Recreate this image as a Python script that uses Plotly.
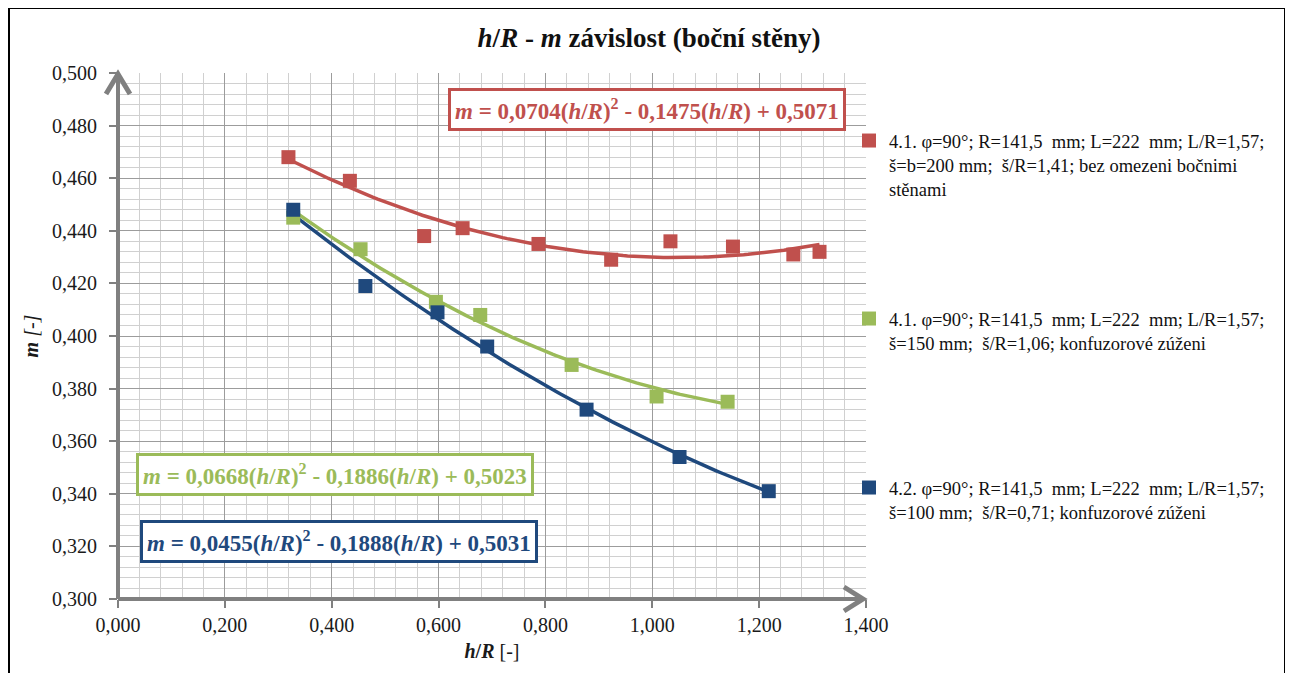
import numpy as np
import plotly.graph_objects as go

# ---- data ----
red_x = [0.319, 0.434, 0.573, 0.645, 0.787, 0.923, 1.034, 1.151, 1.264, 1.313]
red_y = [0.468, 0.459, 0.438, 0.441, 0.435, 0.429, 0.436, 0.434, 0.431, 0.432]
green_x = [0.328, 0.454, 0.595, 0.678, 0.849, 1.008, 1.141]
green_y = [0.445, 0.433, 0.413, 0.408, 0.389, 0.377, 0.375]
blue_x = [0.328, 0.463, 0.598, 0.691, 0.877, 1.051, 1.218]
blue_y = [0.448, 0.419, 0.409, 0.396, 0.372, 0.354, 0.341]

# trendline coefficients (a, b, c) for m = a*(h/R)^2 + b*(h/R) + c, as printed on the chart
red_coef = [0.0704, -0.1475, 0.5071]
green_coef = [0.0668, -0.1886, 0.5023]
blue_coef = [0.0455, -0.1888, 0.5031]

red_name = "4.1. φ=90°; R=141,5 \u00a0mm; L=222 \u00a0mm; L/R=1,57;<br>š=b=200 mm; \u00a0š/R=1,41; bez omezeni bočnimi<br>stěnami"
green_name = "4.1. φ=90°; R=141,5 \u00a0mm; L=222 \u00a0mm; L/R=1,57;<br>š=150 mm; \u00a0š/R=1,06; konfuzorové zúženi"
blue_name = "4.2. φ=90°; R=141,5 \u00a0mm; L=222 \u00a0mm; L/R=1,57;<br>š=100 mm; \u00a0š/R=0,71; konfuzorové zúženi"

RED = "#c0504d"
GREEN = "#9bbb59"
BLUE = "#1f497d"
AXIS = "#808080"
SERIF = "Liberation Serif, Times New Roman, serif"

# page has an 8px body margin; work in page pixels and convert
OFF = 8
W, H = 1285, 665
L, T = 118 - OFF, 73 - OFF
PW, PH = 748, 526
R = W - L - PW
B = H - T - PH


def px2paper(px, py):
    fx, fy = px - OFF, py - OFF
    return (fx - L) / PW, (H - B - fy) / PH


def trend(coef, xs):
    xx = np.linspace(min(xs), max(xs), 120)
    return xx, coef[0] * xx ** 2 + coef[1] * xx + coef[2]


def eq_text(coef):
    a, b, c = coef
    f = lambda v: f"{abs(v):.4f}".replace(".", ",")
    sb = "-" if b < 0 else "+"
    sc = "-" if c < 0 else "+"
    return (f"<b><i>m</i> = {f(a)}(<i>h</i>/<i>R</i>)<sup>2</sup> {sb} {f(b)}(<i>h</i>/<i>R</i>) {sc} {f(c)}</b>")


fig = go.Figure()

series = [
    (red_x, red_y, red_coef, RED, red_name, "legend"),
    (green_x, green_y, green_coef, GREEN, green_name, "legend2"),
    (blue_x, blue_y, blue_coef, BLUE, blue_name, "legend3"),
]

for xs, ys, coef, col, name, lg in series:
    tx, ty = trend(coef, xs)
    fig.add_trace(go.Scatter(x=tx, y=ty, mode="lines", line=dict(color=col, width=3.5),
                             showlegend=False, hoverinfo="skip"))
for xs, ys, coef, col, name, lg in series:
    fig.add_trace(go.Scatter(x=xs, y=ys, mode="markers", name=name, legend=lg,
                             marker=dict(symbol="square", size=14, color=col)))

grid_major = "#9c9c9c"
grid_minor = "#d0d0d0"

fig.update_xaxes(range=[0, 1.4], dtick=0.2, tick0=0, tickformat=".3f",
                 showgrid=True, gridcolor=grid_major, gridwidth=1,
                 minor=dict(dtick=0.04, showgrid=True, gridcolor=grid_minor, gridwidth=1),
                 ticks="outside", ticklen=8, tickwidth=2, tickcolor=AXIS,
                 showline=False, zeroline=False, ticklabelstandoff=0,
                 tickfont=dict(family=SERIF, size=20, color="#1a1a1a"),
                 title=dict(text="<b><i>h</i>/<i>R</i></b> [-]", font=dict(family=SERIF, size=20, color="#1a1a1a"),
                            standoff=8))
fig.update_yaxes(range=[0.3, 0.5], dtick=0.02, tick0=0.3, tickformat=".3f",
                 showgrid=True, gridcolor=grid_major, gridwidth=1,
                 minor=dict(dtick=0.004, showgrid=True, gridcolor=grid_minor, gridwidth=1),
                 ticks="outside", ticklen=8, tickwidth=2, tickcolor=AXIS,
                 showline=False, zeroline=False, ticklabelstandoff=8,
                 tickfont=dict(family=SERIF, size=20, color="#1a1a1a"),
                 title=dict(text="<b><i>m</i></b> <i>[-]</i>", font=dict(family=SERIF, size=20, color="#1a1a1a"),
                            standoff=8))

annotations = []
# equation boxes
for coef, col, (cx, cy) in [(red_coef, RED, (647, 109)), (green_coef, GREEN, (335, 474)),
                            (blue_coef, BLUE, (339, 541))]:
    px_, py_ = px2paper(cx, cy)
    annotations.append(dict(x=px_, y=py_, xref="paper", yref="paper", xanchor="center", yanchor="middle",
                            text=eq_text(coef), showarrow=False,
                            font=dict(family=SERIF, size=23, color=col),
                            bgcolor="white", bordercolor=col, borderwidth=3, borderpad=4))

# axis lines with open chevron arrowheads (Excel style), in paper units
dxp = 1.0 / PW
dyp = 1.0 / PH
shapes = [
    dict(type="line", xref="paper", yref="paper", x0=0, y0=0, x1=0, y1=1,
         line=dict(color=AXIS, width=4), layer="above"),
    dict(type="line", xref="paper", yref="paper", x0=0, y0=0, x1=1 - 3 * dxp, y1=0,
         line=dict(color=AXIS, width=4), layer="above"),
    dict(type="path", xref="paper", yref="paper",
         path=(f"M {-12 * dxp},{1 - 21 * dyp} L 0,{1 - 1 * dyp} L {12 * dxp},{1 - 21 * dyp}"),
         line=dict(color=AXIS, width=5), layer="above"),
    dict(type="path", xref="paper", yref="paper",
         path=(f"M {1 - 22 * dxp},{12 * dyp} L {1 - 3 * dxp},0 L {1 - 22 * dxp},{-12 * dyp}"),
         line=dict(color=AXIS, width=5), layer="above"),
]

# outer frame
fx0, fy0 = px2paper(9, 8)
fx1, fy1 = px2paper(1285, 700)
shapes.append(dict(type="rect", xref="paper", yref="paper", x0=fx0, x1=fx1, y0=fy1, y1=fy0,
                   line=dict(color="black", width=2), fillcolor="rgba(0,0,0,0)", layer="above"))

lx, _ = px2paper(849, 0)
_, ly1 = px2paper(0, 122)
_, ly2 = px2paper(0, 300)
_, ly3 = px2paper(0, 469)
legend_common = dict(xanchor="left", yanchor="top", bgcolor="rgba(0,0,0,0)", borderwidth=0,
                     font=dict(family=SERIF, size=18.5, color="#111"), valign="top", itemwidth=30)

fig.update_layout(
    width=W, height=H,
    margin=dict(l=L, r=R, t=T, b=B, autoexpand=False),
    paper_bgcolor="white", plot_bgcolor="white",
    separators=", ",
    title=dict(text="<b><i>h</i>/<i>R</i> - <i>m</i> závislost (boční stěny)</b>",
               x=(649 - OFF) / W, y=1 - (38 - OFF) / H, xanchor="center", yanchor="middle",
               font=dict(family=SERIF, size=27, color="#111")),
    legend=dict(x=lx, y=ly1, **legend_common),
    legend2=dict(x=lx, y=ly2, **legend_common),
    legend3=dict(x=lx, y=ly3, **legend_common),
    annotations=annotations,
    shapes=shapes,
    showlegend=True,
)

fig.write_html("out.html")
